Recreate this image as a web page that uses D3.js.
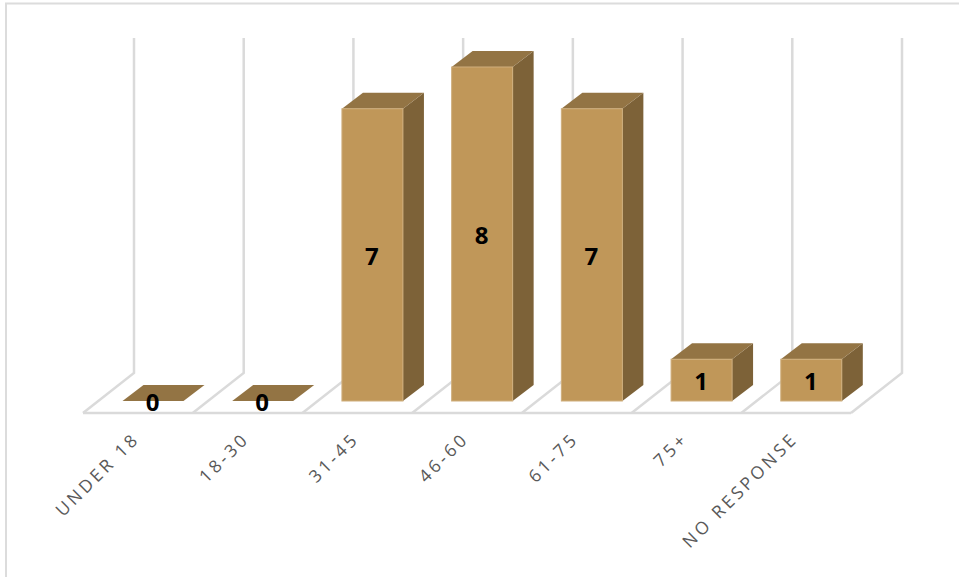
<!DOCTYPE html>
<html><head><meta charset="utf-8">
<script src="https://cdn.jsdelivr.net/npm/d3@7/dist/d3.min.js"></script>
<style>html,body{margin:0;padding:0;background:#fff}svg{display:block}</style>
</head><body><svg id="c" width="959" height="577"></svg>
<script>
const categories=["UNDER 18","18-30","31-45","46-60","61-75","75+","NO RESPONSE"];
const counts=[0,0,7,8,7,1,1];
const W=959,H=577;
const depthX=21,depthY=16,floorDX=51,floorDY=40;
const svg=d3.select("#c");
const x=d3.scaleBand().domain(categories).range([83,851]);
const y=d3.scaleLinear().domain([0,8]).range([401,67]);
const grid="#dadada";
// frame
svg.append("path").attr("d",`M6,577V3.5H959`).attr("fill","none").attr("stroke","#dcdcdc").attr("stroke-width",2);
// walls + floor
const bounds=categories.map(c=>x(c)).concat([x.range()[1]]);
const g=svg.append("g").attr("fill","none").attr("stroke",grid).attr("stroke-width",2.5);
bounds.forEach(b=>{
  g.append("path").attr("d",`M${b},413L${b+floorDX},373V38`);
});
g.append("path").attr("d",`M83,413H851`);
// bars
const barW=61,off=39.5;
const bars=svg.append("g").selectAll("g").data(categories).join("g");
bars.each(function(c,i){
  const s=d3.select(this),x0=x(c)+off,x1=x0+barW,t=y(counts[i]),b=y(0);
  s.append("path").attr("d",`M${x1},${b}L${x1+depthX},${b-depthY}V${t-depthY}L${x1},${t}Z`).attr("fill","#7d6238");
  s.append("path").attr("d",`M${x0},${t}L${x0+depthX},${t-depthY}H${x1+depthX}L${x1},${t}Z`).attr("fill","#937444");
  if(counts[i]>0) s.append("rect").attr("x",x0).attr("y",t).attr("width",barW).attr("height",b-t).attr("fill","#c09759").attr("stroke","#cfae7c").attr("stroke-width",1);
  s.append("text").attr("x",x0+30).attr("y",counts[i]>0?(t+b)/2+10:411).attr("text-anchor","middle")
   .attr("font-family","'Open Sans',sans-serif").attr("font-weight",700).attr("font-size",24).attr("fill","#000").text(counts[i]);
});
// axis labels
svg.append("g").selectAll("text").data(categories).join("text")
 .attr("transform",c=>`translate(${x(c)+47},${429}) rotate(-45)`)
 .attr("text-anchor","end").attr("dominant-baseline","hanging")
 .attr("font-family","'Open Sans',sans-serif").attr("font-size",17.5).attr("letter-spacing",3.3).attr("fill","#595959")
 .text(c=>c);
</script></body></html>
